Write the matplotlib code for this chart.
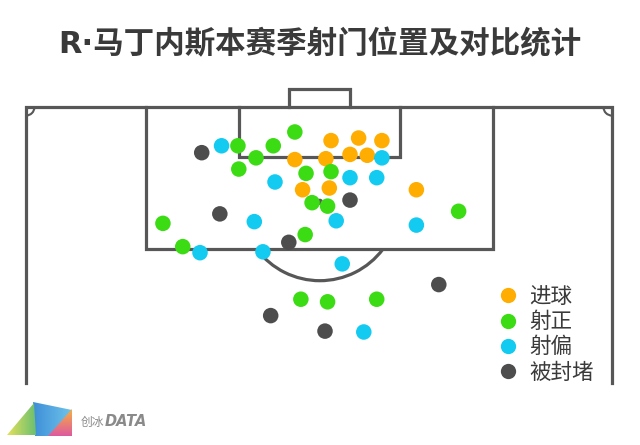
import matplotlib
matplotlib.use('Agg')
import matplotlib.pyplot as plt
from matplotlib.patches import Rectangle, Arc, Polygon, Circle
from matplotlib.lines import Line2D
import numpy as np

plt.rcParams['font.family'] = ['Noto Sans CJK SC', 'DejaVu Sans']

title = 'R·马丁内斯本赛季射门位置及对比统计'
categories = ['进球', '射正', '射偏', '被封堵']
colors = ['#FFAD00', '#3BDC13', '#13CBF0', '#4D4D4D']

# shot positions in metres: x across pitch (0 = centre of goal), y = distance from goal line
goal_x = [1.4, 4.6, 7.3, 0.8, 3.6, 5.6, 1.2, 11.3, -2.8, -1.9]
goal_y = [3.9, 3.6, 3.9, 6.0, 5.5, 5.6, 9.4, 9.6, 6.1, 9.6]

on_x = [-2.8, -9.4, -5.3, -7.3, -9.3, -1.5, 1.4, -0.8, 1.0, -18.1, -15.8, -1.6, 16.2, -2.1, 1.0, 6.7]
on_y = [2.9, 4.5, 4.5, 5.9, 7.2, 7.7, 7.5, 11.1, 11.5, 13.5, 16.2, 14.8, 12.1, 22.3, 22.6, 22.3]

off_x = [-11.3, -5.1, 7.3, 3.6, 6.7, -7.5, -13.8, -6.5, 2.0, 11.3, 2.7, 5.2]
off_y = [4.5, 8.7, 5.9, 8.2, 8.2, 13.3, 16.9, 16.8, 13.2, 13.7, 18.2, 26.1]

blk_x = [-13.6, -11.5, 3.6, -3.5, 13.9, -5.6, 0.7]
blk_y = [5.3, 12.4, 10.8, 15.7, 20.6, 24.2, 26.0]

series = [(goal_x, goal_y), (on_x, on_y), (off_x, off_y), (blk_x, blk_y)]

fig = plt.figure(figsize=(6.4, 4.45), dpi=100)
fig.patch.set_facecolor('white')
ax = fig.add_axes([0, 0, 1, 1])
ax.set_xlim(-37.0, 37.24)
ax.set_ylim(39.21, -12.41)
ax.axis('off')

lc = '#575757'
lw = 2.3
# touchlines and goal line
ax.plot([-34, -34, 34, 34], [32, 0, 0, 32], color=lc, lw=lw, solid_joinstyle='miter', zorder=1)
# penalty box
ax.plot([-20.1, -20.1, 20.2, 20.2], [0, 16.5, 16.5, 0], color=lc, lw=lw, solid_joinstyle='miter', zorder=1)
# six-yard box
ax.plot([-9.3, -9.3, 9.4, 9.4], [0, 5.8, 5.8, 0], color=lc, lw=lw, solid_joinstyle='miter', zorder=1)
# goal
ax.plot([-3.5, -3.5, 3.6, 3.6], [0, -2.1, -2.1, 0], color=lc, lw=lw, solid_joinstyle='miter', zorder=1)
# penalty spot & arc
ax.add_patch(Circle((0.1, 11.0), 0.28, color=lc, zorder=1))
ang = np.degrees(np.arccos((16.5 - 11.0) / 9.15))
ax.add_patch(Arc((0.1, 11.0), 18.3, 18.3, theta1=90 - ang, theta2=90 + ang, color=lc, lw=lw, zorder=1))
# corner arcs
ax.add_patch(Arc((-34, 0), 2.0, 2.0, theta1=0, theta2=90, color=lc, lw=1.5, zorder=1))
ax.add_patch(Arc((34, 0), 2.0, 2.0, theta1=90, theta2=180, color=lc, lw=1.5, zorder=1))

for (xs, ys), c in zip(series, colors):
    ax.scatter(xs, ys, s=125, color=c, edgecolors='none', zorder=3)

fig.text(0.5, 1 - 44 / 445, title, ha='center', va='center', fontsize=22,
         fontweight='bold', color='#3a3a3a', family=['DejaVu Sans', 'Noto Sans CJK SC'])

handles = [Line2D([], [], marker='o', ls='none', markersize=11, markerfacecolor=c,
                  markeredgecolor='none') for c in colors]
leg = fig.legend(handles, categories, loc='upper left', bbox_to_anchor=(497 / 640, 1 - 286 / 445),
                 frameon=False, fontsize=15.5, handlelength=1.0, handletextpad=0.5,
                 labelspacing=0.15, borderpad=0, borderaxespad=0)
for t in leg.get_texts():
    t.set_color('#3a3a3a')

# logo overlay
ax2 = fig.add_axes([0, 0, 1, 1], zorder=5)
ax2.set_xlim(0, 640)
ax2.set_ylim(445, 0)
ax2.axis('off')
ax2.patch.set_alpha(0)

def grad_poly(verts, c1, c2, vertical=True):
    poly = Polygon(verts, closed=True, facecolor='none', edgecolor='none')
    ax2.add_patch(poly)
    xs = [v[0] for v in verts]; ys = [v[1] for v in verts]
    cm = matplotlib.colors.LinearSegmentedColormap.from_list('g', [c1, c2])
    g = np.linspace(0, 1, 64)
    img = g.reshape(-1, 1) if vertical else g.reshape(1, -1)
    im = ax2.imshow(img, cmap=cm, extent=(min(xs), max(xs), max(ys), min(ys)),
                    aspect='auto', origin='upper', interpolation='bilinear')
    im.set_clip_path(poly)

grad_poly([(33, 402), (72, 410), (72, 436), (35, 436)], '#3E8FD8', '#6EC3EA', vertical=False)
grad_poly([(7, 435), (34, 403), (36, 435)], '#E4E05A', '#6CC070', vertical=False)
grad_poly([(48, 436), (72, 409), (72, 436)], '#F7B040', '#DD5A9E', vertical=True)
ax2.text(81, 422, '创冰', fontsize=8.5, color='#8a8a8a', va='center', ha='left')
ax2.text(105, 422, 'DATA', fontsize=10.5, color='#8a8a8a', va='center', ha='left',
         fontweight='bold', style='italic', family='DejaVu Sans')

fig.savefig('out.png', dpi=100, facecolor='white')
